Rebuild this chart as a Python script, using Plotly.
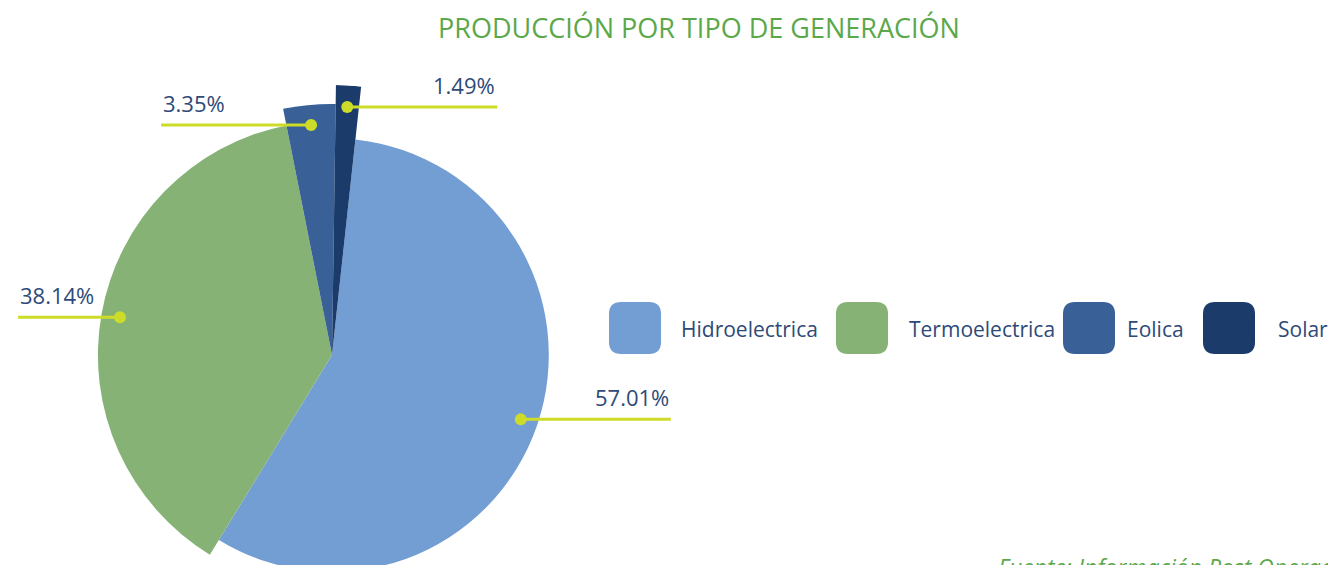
import math
import plotly.graph_objects as go

# ---------------- data ----------------
categories = ["Hidroelectrica", "Termoelectrica", "Eolica", "Solar"]
shares = [57.01, 38.14, 3.35, 1.49]
share_labels = ["57.01%", "38.14%", "3.35%", "1.49%"]
title_text = "PRODUCCIÓN POR TIPO DE GENERACIÓN"
source_text = "Fuente: Información Post Operación"

# ---------------- style ----------------
W, H = 1328, 650
COLORS = ["#739ED3", "#86B276", "#3A6098", "#1B3B6B"]
RADIUS_FRAC = [0.803, 0.867, 0.93, 1.0]   # each slice drawn a bit larger than the previous
START_ANGLE = 6.2                         # degrees clockwise from 12 o'clock
CX, CY, R = 332, 355, 270                 # pie centre / outer radius in px
LEADER = "#CDDC28"
TEXT = "#2E4A78"
GREEN = "#5BA84B"
FONT = "Open Sans"
LEADER_LEN = 150
DOT_FRAC = 0.92
DOT_R = 6
LEG_SWATCH_X = [609, 836, 1063, 1203]
LEG_TEXT_X = [679, 907, 1125, 1276]
LEG_Y0, LEG_Y1 = 302, 354
SW = 52
CORNER = 12

total = sum(shares)
widths = [v / total * 360.0 for v in shares]
mids = []
acc = START_ANGLE
for w in widths:
    mids.append(acc + w / 2.0)
    acc += w

fig = go.Figure()

fig.add_trace(go.Barpolar(
    r=RADIUS_FRAC, theta=mids, width=widths,
    marker=dict(color=COLORS, line=dict(width=0)),
    text=[f"{c}: {l}" for c, l in zip(categories, share_labels)],
    hoverinfo="text", showlegend=False,
))
# invisible cartesian trace so the pixel-space axes exist
fig.add_trace(go.Scatter(x=[0, W], y=[0, H], mode="markers",
                         marker=dict(opacity=0), hoverinfo="skip", showlegend=False))

annotations = []
shapes = []
for i, (lab, th) in enumerate(zip(share_labels, mids)):
    d = DOT_FRAC * RADIUS_FRAC[i] * R
    rad = math.radians(th)
    px = CX + d * math.sin(rad)
    py = CY - d * math.cos(rad)
    if math.sin(rad) >= 0:
        ex = px + LEADER_LEN
        anchor = "right"
    else:
        ex = max(18, px - LEADER_LEN)
        anchor = "left"
    shapes.append(dict(type="line", x0=px, x1=ex, y0=py, y1=py, xref="x", yref="y",
                       line=dict(color=LEADER, width=3), layer="above"))
    shapes.append(dict(type="circle", x0=px - DOT_R, x1=px + DOT_R,
                       y0=py - DOT_R, y1=py + DOT_R, xref="x", yref="y",
                       fillcolor=LEADER, line=dict(width=0), layer="above"))
    annotations.append(dict(
        x=ex, y=py - 5, xref="x", yref="y", text=lab, showarrow=False,
        xanchor=anchor, yanchor="bottom",
        font=dict(family=FONT, size=22, color=TEXT),
    ))

for i, cat in enumerate(categories):
    x0 = LEG_SWATCH_X[i]
    x1 = x0 + SW
    y0, y1 = LEG_Y0, LEG_Y1
    r = CORNER
    path = (f"M {x0+r},{y0} L {x1-r},{y0} Q {x1},{y0} {x1},{y0+r} "
            f"L {x1},{y1-r} Q {x1},{y1} {x1-r},{y1} L {x0+r},{y1} "
            f"Q {x0},{y1} {x0},{y1-r} L {x0},{y0+r} Q {x0},{y0} {x0+r},{y0} Z")
    shapes.append(dict(type="path", path=path, xref="x", yref="y",
                       fillcolor=COLORS[i], line=dict(width=0), layer="above"))
    annotations.append(dict(
        x=LEG_TEXT_X[i], y=(y0 + y1) / 2 + 1, xref="x", yref="y", text=cat,
        showarrow=False, xanchor="left", yanchor="middle",
        font=dict(family=FONT, size=21, color=TEXT),
    ))

annotations.append(dict(
    x=699, y=27, xref="x", yref="y", text=title_text, showarrow=False,
    xanchor="center", yanchor="middle",
    font=dict(family=FONT, size=27, color=GREEN),
))
annotations.append(dict(
    x=996, y=567, xref="x", yref="y", text=f"<i>{source_text}</i>",
    showarrow=False, xanchor="left", yanchor="middle",
    font=dict(family=FONT, size=23, color=GREEN),
))

fig.update_layout(
    width=W, height=H,
    margin=dict(l=0, r=0, t=0, b=0),
    paper_bgcolor="white", plot_bgcolor="rgba(0,0,0,0)",
    showlegend=False,
    polar=dict(
        domain=dict(x=[(CX - R) / W, (CX + R) / W],
                    y=[(H - CY - R) / H, (H - CY + R) / H]),
        bgcolor="rgba(0,0,0,0)", hole=0,
        radialaxis=dict(range=[0, 1], visible=False),
        angularaxis=dict(rotation=90, direction="clockwise", visible=False),
    ),
    xaxis=dict(range=[0, W], domain=[0, 1], visible=False, fixedrange=True),
    yaxis=dict(range=[H, 0], domain=[0, 1], visible=False, fixedrange=True),
    shapes=shapes,
    annotations=annotations,
)

fig.write_html(
    "out.html",
    config={"displayModeBar": False},
    post_script="document.body.style.margin='0';document.body.style.overflow='hidden';"
                "document.documentElement.style.overflow='hidden';",
)
